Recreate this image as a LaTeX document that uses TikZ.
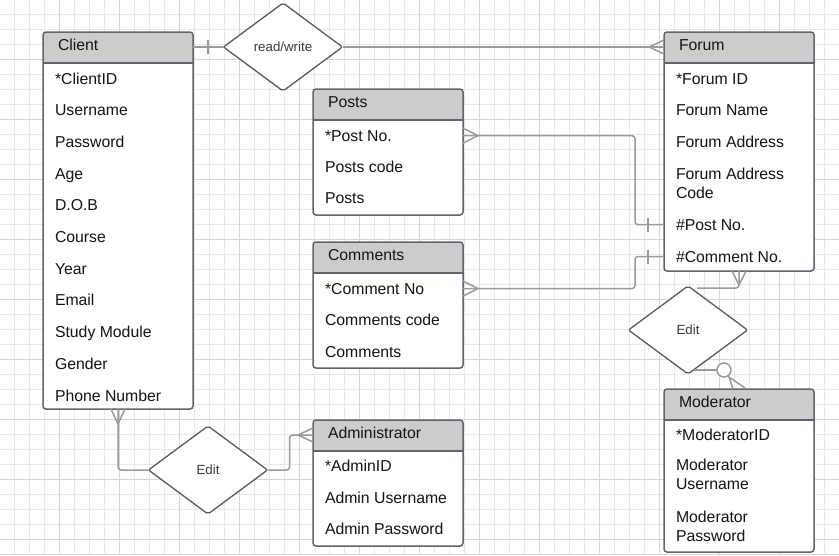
\documentclass[tikz,border=0pt]{standalone}
\usepackage{fontspec}
\setmainfont{Liberation Sans}
\usetikzlibrary{shapes.geometric,calc}
\definecolor{gridminor}{HTML}{E8E8E8}
\definecolor{gridmajor}{HTML}{D6D6D6}
\definecolor{framecol}{HTML}{5E6570}
\definecolor{hdrcol}{HTML}{CCCCCC}
\definecolor{conncol}{HTML}{9B9B9B}
\definecolor{dmdcol}{HTML}{5A5A5A}
\definecolor{dtextcol}{HTML}{3A3A3A}
\tikzset{
  frm/.style={draw=framecol, line width=1.5pt, rounded corners=3pt, inner sep=0pt, outer sep=0pt, anchor=north west},
  ttl/.style={anchor=base west, inner sep=0pt, outer sep=0pt, font=\fontsize{15.8}{20}\selectfont, text=black!92},
  attr/.style={ttl},
  attr2/.style={anchor=west, inner sep=0pt, outer sep=0pt, align=left, font=\fontsize{15.8}{19}\selectfont, text=black!92},
  rel/.style={draw=dmdcol, line width=1.3pt, shape=diamond, fill=white, inner sep=0pt, outer sep=0pt, minimum width=119pt, minimum height=88pt, rounded corners=2pt, font=\fontsize{13.3}{16}\selectfont, text=dtextcol},
  conn/.style={draw=conncol, line width=1.5pt, rounded corners=3pt},
  tick/.style={draw=conncol, line width=1.5pt},
}
\newcommand\erentity[6]{%
  \fill[white, rounded corners=3pt] (#2,#3) rectangle (#4,#5);
  \fill[hdrcol, rounded corners=3pt] (#2,#3) rectangle (#4,#3+31);
  \fill[hdrcol] (#2,#3+10) rectangle (#4,#3+31);
  \draw[draw=framecol, line width=1.5pt] (#2,#3+31) -- (#4,#3+31);
  \node[frm, minimum width=#4-#2, minimum height=#5-#3] (#1) at (#2,#3) {};
  \node[ttl] (#1-title) at (#2+15,#3+18) {#6};
}
\begin{document}
\begin{tikzpicture}[x=1pt,y=-1pt]
\useasboundingbox (0,0) rectangle (839,555);
\fill[white] (0,0) rectangle (839,555);
% grid
\foreach \x in {14,29,...,839} \draw[gridminor, line width=0.7pt] (\x,0) -- (\x,554);
\foreach \y in {14,29,...,554} \draw[gridminor, line width=0.7pt] (0,\y) -- (839,\y);
\foreach \x in {59,119,...,839} \draw[gridmajor, line width=0.9pt] (\x,0) -- (\x,554);
\foreach \y in {59,119,...,539} \draw[gridmajor, line width=0.9pt] (0,\y) -- (839,\y);
\draw[gridmajor, line width=1pt] (0,554) -- (839,554);

% entities
\erentity{client}{43}{32}{193}{409}{Client}
\foreach \t [count=\i] in {*ClientID,Username,Password,Age,D.O.B,Course,Year,Email,Study Module,Gender,Phone Number}
  \node[attr] (client-\i) at (55,84+31.7*\i-31.7) {\t};

\erentity{forum}{664}{32}{814}{271}{Forum}
\node[attr] (forum-1) at (676,84) {*Forum ID};
\node[attr] (forum-2) at (676,115) {Forum Name};
\node[attr] (forum-3) at (676,147) {Forum Address};
\node[attr2] (forum-4) at (676,183.5) {Forum Address\\Code};
\node[attr] (forum-5) at (676,230) {\#Post No.};
\node[attr] (forum-6) at (676,262) {\#Comment No.};

\erentity{posts}{313}{89}{463}{215}{Posts}
\node[attr] (posts-1) at (325,141) {*Post No.};
\node[attr] (posts-2) at (325,172) {Posts code};
\node[attr] (posts-3) at (325,203) {Posts};

\erentity{comments}{313}{242}{463}{368}{Comments}
\node[attr] (comments-1) at (325,294) {*Comment No};
\node[attr] (comments-2) at (325,325) {Comments code};
\node[attr] (comments-3) at (325,357) {Comments};

\erentity{admin}{313}{420}{463}{546}{Administrator}
\node[attr] (admin-1) at (325,471) {*AdminID};
\node[attr] (admin-2) at (325,503) {Admin Username};
\node[attr] (admin-3) at (325,534) {Admin Password};

\erentity{moderator}{664}{389}{814}{552}{Moderator}
\node[attr] (moderator-1) at (676,440) {*ModeratorID};
\node[attr2] (moderator-2) at (676,474.5) {Moderator\\Username};
\node[attr2] (moderator-3) at (676,526) {Moderator\\Password};

% relationships
\node[rel] (rw) at (283,47) {read/write};
\node[rel] (edit1) at (208,470) {Edit};
\node[rel] (edit2) at (688,330) {Edit};

% connectors
% Client -- read/write (one)
\coordinate (cA) at (client.north east |- rw.west);
\draw[conn] (cA) -- (rw.west);
\draw[tick] ($(cA)+(15,-7)$) -- ($(cA)+(15,7)$);

% read/write -- Forum (many)
\coordinate (fA) at (rw.east -| forum.west);
\draw[conn] (rw.east) -- (fA);
\draw[tick] ($(fA)+(0,-7)$) -- ($(fA)+(-15,0)$) -- ($(fA)+(0,7)$);

% Posts -- Forum
\coordinate (pA) at (posts.east |- posts-1.west);
\coordinate (fB) at (forum.west |- forum-5.west);
\draw[conn] (pA) -- ++(172,0) |- (fB);
\draw[tick] ($(pA)+(0,-7.5)$) -- ($(pA)+(15,0)$) -- ($(pA)+(0,7.5)$);
\draw[tick] ($(fB)+(-16,-7)$) -- ($(fB)+(-16,7)$);

% Comments -- Forum
\coordinate (kA) at (comments.east |- comments-1.west);
\coordinate (fC) at (forum.west |- forum-6.west);
\draw[conn] (kA) -- ++(172,0) |- (fC);
\draw[tick] ($(kA)+(0,-7.5)$) -- ($(kA)+(15,0)$) -- ($(kA)+(0,7.5)$);
\draw[tick] ($(fC)+(-16,-7)$) -- ($(fC)+(-16,7)$);

% Forum -- Edit (moderator)
\coordinate (e2n) at ($(edit2.north)+(9,2)$);
\draw[conn] (forum.south) |- (e2n);
\draw[tick] ($(forum.south)+(-7,0)$) -- ($(forum.south)+(0,14)$) -- ($(forum.south)+(7,0)$);

% Edit -- Moderator (zero or many)
\coordinate (e2s) at ($(edit2.south)+(6,-4)$);
\coordinate (mC) at ($(moderator.north)+(-15,-19)$);
\draw[conn] (e2s) -- ($(mC)+(-7,0)$);
\draw[tick, fill=white] (mC) circle (7pt);
\draw[tick] ($(moderator.north)+(-6,0)$) -- ($(moderator.north)+(-10,-12)$) -- ($(moderator.north)+(6,-1)$);

% Client -- Edit (admin)
\draw[conn] (client.south) |- (edit1.west);
\draw[tick] ($(client.south)+(-7,0)$) -- ($(client.south)+(0,15)$) -- ($(client.south)+(7,0)$);

% Edit -- Administrator
\coordinate (aA) at ($(admin.north west)+(0,15)$);
\draw[conn] (edit1.east) -- ++(22,0) |- (aA);
\draw[tick] ($(aA)+(0,-7)$) -- ($(aA)+(-15,0)$) -- ($(aA)+(0,7)$);
\end{tikzpicture}
\end{document}
